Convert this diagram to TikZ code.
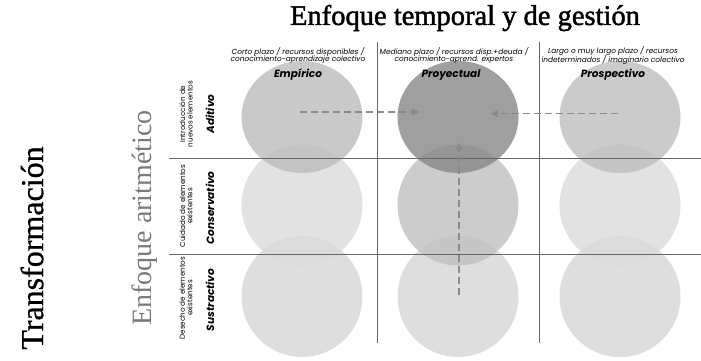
\documentclass[tikz,border=0pt]{standalone}
\usepackage{fontspec}
\usetikzlibrary{arrows.meta,shapes.geometric}
\newfontfamily\serifhead[FakeBold=1.6]{Liberation Serif}
\newfontfamily\serifmid[FakeBold=0.8]{Liberation Serif}
\newfontfamily\seriflight{Liberation Serif}
\newfontfamily\pop{Poppins}
\definecolor{gridline}{HTML}{666666}
\definecolor{dashgray}{HTML}{8A8A8A}
\definecolor{axisgray}{HTML}{7A7A7A}
\tikzset{
  disc/.style={ellipse, draw=none, fill opacity=0.8, inner sep=0pt},
  toprow/.style={disc, minimum width=121pt, minimum height=112pt},
  lowrow/.style={disc, minimum width=121pt, minimum height=121pt},
  gridrule/.style={draw=gridline, line width=0.9pt},
  flow/.style={draw=dashgray, line width=1.5pt, dash pattern=on 7pt off 4pt,
    -{Triangle[length=7pt,width=7pt]}},
  colnote/.style={align=center, font=\pop\itshape\fontsize{7.4}{7.6}\selectfont},
  colname/.style={font=\pop\bfseries\itshape\fontsize{10.5}{12}\selectfont},
  rownote/.style={align=center, rotate=90, font=\pop\fontsize{7.2}{7.4}\selectfont},
  rowname/.style={rotate=90, font=\pop\bfseries\itshape\fontsize{10.5}{12}\selectfont}
}
\begin{document}
\begin{tikzpicture}[x=1pt,y=-1pt]
\useasboundingbox (0,0) rectangle (701,360);
\fill[white] (0,0) rectangle (701,360);

% bottom row discs
\node[lowrow, fill={rgb,255:red,214;green,214;blue,214}] (c31) at (302,296.5) {};
\node[lowrow, fill={rgb,255:red,214;green,214;blue,214}] (c32) at (458,296.5) {};
\node[lowrow, fill={rgb,255:red,214;green,214;blue,214}] (c33) at (620,296.5) {};
% middle row discs
\node[lowrow, fill={rgb,255:red,219;green,219;blue,219}] (c21) at (302,205) {};
\node[lowrow, fill={rgb,255:red,192;green,192;blue,192}] (c22) at (458,205) {};
\node[lowrow, fill={rgb,255:red,219;green,219;blue,219}] (c23) at (620,205) {};
% top row discs
\node[toprow, fill={rgb,255:red,188;green,188;blue,188}] (c11) at (302,117) {};
\node[toprow, fill={rgb,255:red,136;green,136;blue,136}] (c12) at (458,117) {};
\node[toprow, fill={rgb,255:red,190;green,190;blue,190}] (c13) at (620,117) {};

% grid
\coordinate (h1a) at (169,158.7); \coordinate (h1b) at (701,158.7);
\coordinate (h2a) at (169,254);   \coordinate (h2b) at (701,254);
\coordinate (v1a) at (377.5,42);  \coordinate (v1b) at (377.5,343);
\coordinate (v2a) at (539.5,42);  \coordinate (v2b) at (539.5,343);
\draw[gridrule] (h1a) -- (h1b);
\draw[gridrule] (h2a) -- (h2b);
\draw[gridrule] (v1a) -- (v1b);
\draw[gridrule] (v2a) -- (v2b);

% flows towards the project cell
\coordinate (f1s) at (300,112); \coordinate (f1e) at (419,112);
\coordinate (f2s) at (618,113.5); \coordinate (f2e) at (491,113.5);
\coordinate (f3s) at (459,295); \coordinate (f3e) at (459,143);
\draw[flow] (f1s) -- (f1e);
\draw[flow] (f2s) -- (f2e);
\draw[flow] (f3s) -- (f3e);

% headings
\node[font=\serifhead\fontsize{28.5}{32}\selectfont] (title) at (465,18) {Enfoque temporal y de gestión};
\node[rotate=90, font=\serifmid\fontsize{32}{34}\selectfont] (transf) at (32,248) {Transformación};
\node[rotate=90, text=axisgray, font=\seriflight\fontsize{28}{30}\selectfont] (arit) at (145,218) {Enfoque aritmético};

% column headers
\node[colnote] (n1) at (298,55.5) {Corto plazo / recursos disponibles /\\conocimiento-aprendizaje colectivo};
\node[colnote] (n2) at (454,55.5) {Mediano plazo / recursos disp.+deuda /\\conocimiento-aprend. expertos};
\node[colnote] (n3) at (613,55.5) {Largo o muy largo plazo / recursos\\indeterminados / imaginario colectivo};
\node[colname] (k1) at (298,75) {Empírico};
\node[colname] (k2) at (451,75) {Proyectual};
\node[colname] (k3) at (613,75) {Prospectivo};

% row headers
\node[rownote] (r1) at (186,114) {Introducción de\\nuevos elementos};
\node[rownote] (r2) at (186,206) {Cuidado de elementos\\existentes};
\node[rownote] (r3) at (186,298) {Desecho de elementos\\existentes};
\node[rowname] (q1) at (210,114) {Aditivo};
\node[rowname] (q2) at (210,208) {Conservativo};
\node[rowname] (q3) at (210,300) {Sustractivo};
\end{tikzpicture}
\end{document}
